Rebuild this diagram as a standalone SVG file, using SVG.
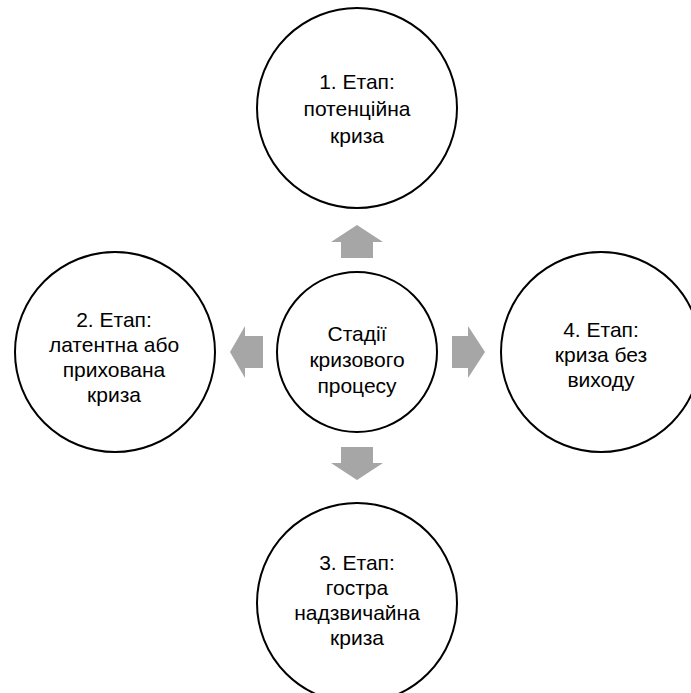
<svg xmlns="http://www.w3.org/2000/svg" width="691" height="693" viewBox="0 0 691 693">
<style>
.node circle{fill:#fff;stroke:#000;stroke-width:2}
text{font-family:"Liberation Sans",Arial,sans-serif;font-size:21px;fill:#000;text-anchor:middle}
.arrow{fill:#a6a6a6}
</style>
<rect width="691" height="693" fill="#fff"/>
<g id="connectors">
<polygon class="arrow" points="357,225 383,242 373,242 373,258 341,258 341,242 331,242"/>
<polygon class="arrow" points="357,480 383,463 373,463 373,447 341,447 341,463 331,463"/>
<polygon class="arrow" points="230,352 245,326 245,336 263,336 263,368 245,368 245,378"/>
<polygon class="arrow" points="485,352 468,326 468,336 452,336 452,368 468,368 468,378"/>
</g>
<g id="node-center" class="node">
<circle cx="357" cy="352" r="80"/>
<text x="357" y="341">Стадії</text>
<text x="357" y="367">кризового</text>
<text x="357" y="393">процесу</text>
</g>
<g id="node-1" class="node">
<circle cx="357" cy="108" r="100"/>
<text x="357" y="89">1. Етап:</text>
<text x="357" y="116">потенційна</text>
<text x="357" y="143">криза</text>
</g>
<g id="node-2" class="node">
<circle cx="115" cy="352" r="100"/>
<text x="114" y="327">2. Етап:</text>
<text x="114" y="352">латентна або</text>
<text x="114" y="377">прихована</text>
<text x="114" y="402">криза</text>
</g>
<g id="node-4" class="node">
<circle cx="601" cy="352" r="100"/>
<text x="601" y="337">4. Етап:</text>
<text x="601" y="362">криза без</text>
<text x="601" y="387">виходу</text>
</g>
<g id="node-3" class="node">
<circle cx="357" cy="603" r="100"/>
<text x="357" y="570">3. Етап:</text>
<text x="357" y="595">гостра</text>
<text x="357" y="620">надзвичайна</text>
<text x="357" y="645">криза</text>
</g>
</svg>
